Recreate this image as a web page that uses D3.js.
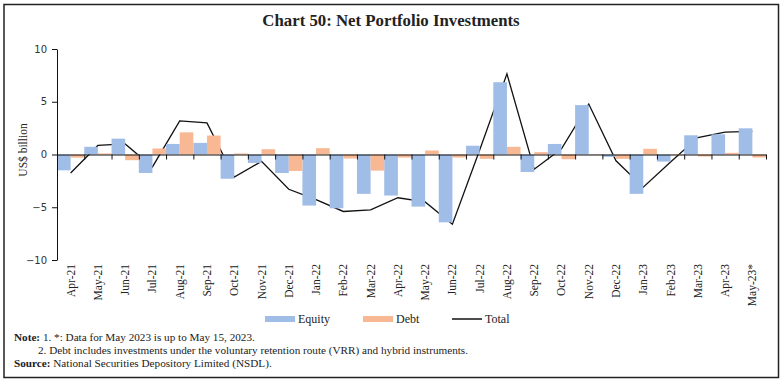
<!DOCTYPE html>
<html>
<head>
<meta charset="utf-8">
<script src="https://cdn.jsdelivr.net/npm/d3@7/dist/d3.min.js"></script>
<style>
body { margin:0; background:#fff; }
svg text { fill:#222; }
</style>
</head>
<body>
<svg id="chart"></svg>
<script>
var months = ["Apr-21","May-21","Jun-21","Jul-21","Aug-21","Sep-21","Oct-21","Nov-21","Dec-21",
    "Jan-22","Feb-22","Mar-22","Apr-22","May-22","Jun-22","Jul-22","Aug-22","Sep-22","Oct-22",
    "Nov-22","Dec-22","Jan-23","Feb-23","Mar-23","Apr-23","May-23*"]

var equity = [-1.5,0.73,1.5,-1.75,1.0,1.1,-2.3,-0.8,-1.75,
    -4.84,-5.1,-3.73,-3.89,-4.94,-6.43,0.83,6.85,-1.66,1.0,
    4.68,-0.22,-3.73,-0.67,1.82,1.91,2.48]

var debt = [-0.3,0.1,-0.54,0.57,2.1,1.8,0.1,0.5,-1.56,
    0.6,-0.38,-1.53,-0.29,0.38,-0.29,-0.41,0.73,0.22,-0.45,
    -0.05,-0.41,0.54,-0.05,-0.19,0.16,-0.29]

var total = [-1.75,0.86,1.0,-1.18,3.18,3.0,-2.13,-0.65,-3.3,
    -4.27,-5.4,-5.25,-4.1,-4.5,-6.6,0.42,7.64,-1.4,0.54,
    4.78,-0.6,-3.1,-0.72,1.6,2.13,2.2]

var yTicks = [-10,-5,0,5,10]

var blue = "#9fbde6"
var orange = "#f8b894"

var screen = {width:783, height:383}
var plot = {left:57, right:766, top:49, bottom:260}

var svg = d3.select("#chart")
    .attr("width",screen.width)
    .attr("height",screen.height)

//outer frame
svg.append("rect")
    .attr("x",4)
    .attr("y",4.5)
    .attr("width",774.5)
    .attr("height",373)
    .attr("fill","none")
    .attr("stroke","#222")
    .attr("stroke-width",1.5)

svg.append("text")
    .attr("x",391)
    .attr("y",26)
    .attr("text-anchor","middle")
    .style("font-family","Liberation Serif")
    .style("font-weight","bold")
    .style("font-size","16.8px")
    .text("Chart 50: Net Portfolio Investments")

var xScale = d3.scaleBand()
    .domain(months)
    .range([plot.left,plot.right])
    .padding(0)

var yScale = d3.scaleLinear()
    .domain([-10,10])
    .range([plot.bottom,plot.top])

var bw = xScale.bandwidth()

//total line goes under the bars
var line = d3.line()
    .x(function(d,i){ return xScale(months[i]) + bw/2; })
    .y(function(d){ return yScale(d); })

svg.append("path")
    .datum(total)
    .attr("d",line)
    .attr("fill","none")
    .attr("stroke","#111")
    .attr("stroke-width",1.3)

svg.append("g").selectAll("rect")
    .data(equity)
    .enter()
    .append("rect")
    .attr("x",function(d,i){ return xScale(months[i]); })
    .attr("y",function(d){ return yScale(Math.max(0,d)); })
    .attr("width",bw/2)
    .attr("height",function(d){ return Math.abs(yScale(d)-yScale(0)); })
    .attr("fill",blue)

svg.append("g").selectAll("rect")
    .data(debt)
    .enter()
    .append("rect")
    .attr("x",function(d,i){ return xScale(months[i]) + bw/2; })
    .attr("y",function(d){ return yScale(Math.max(0,d)); })
    .attr("width",bw/2)
    .attr("height",function(d){ return Math.abs(yScale(d)-yScale(0)); })
    .attr("fill",orange)

//y axis
var yAxis = d3.axisLeft(yScale)
    .tickValues(yTicks)
    .tickSize(5)
    .tickSizeOuter(0)
    .tickPadding(5)

var yg = svg.append("g")
    .attr("transform","translate("+plot.left+",0)")
    .call(yAxis)
yg.selectAll("path,line").attr("stroke","#111")
yg.selectAll("text")
    .style("font-family","DejaVu Sans")
    .style("font-size","10px")
    .style("fill","#333")

//zero line with ticks on the band edges
var edgeScale = d3.scaleLinear()
    .domain([0,months.length])
    .range([plot.left,plot.right])

var zg = svg.append("g")
    .attr("transform","translate(0,"+yScale(0)+")")
    .call(d3.axisBottom(edgeScale)
        .ticks(months.length)
        .tickFormat("")
        .tickSize(5)
        .tickSizeOuter(0))
zg.selectAll("path,line").attr("stroke","#111")

//month labels
svg.append("g").selectAll("text")
    .data(months)
    .enter()
    .append("text")
    .attr("transform",function(d){
        return "translate("+(xScale(d)+bw/2+4)+",264) rotate(-90)";
    })
    .attr("text-anchor","end")
    .style("font-family","Liberation Serif")
    .style("font-size","11.5px")
    .text(function(d){ return d; })

svg.append("text")
    .attr("transform","translate(27,150) rotate(-90)")
    .attr("text-anchor","middle")
    .style("font-family","Liberation Serif")
    .style("font-size","11.5px")
    .text("US$ billion")

//legend
var legend = [
    {name:"Equity", x:265, type:"rect", color:blue},
    {name:"Debt", x:363, type:"rect", color:orange},
    {name:"Total", x:452, type:"line", color:"#111"}
]
var lg = svg.append("g")
legend.forEach(function(item){
    if(item.type=="rect")
    {
        lg.append("rect")
            .attr("x",item.x).attr("y",316)
            .attr("width",30).attr("height",6)
            .attr("fill",item.color)
    }
    else
    {
        lg.append("line")
            .attr("x1",item.x).attr("x2",item.x+30)
            .attr("y1",319).attr("y2",319)
            .attr("stroke",item.color).attr("stroke-width",1.5)
    }
    lg.append("text")
        .attr("x",item.x+33).attr("y",323)
        .style("font-family","Liberation Serif")
        .style("font-size","12px")
        .text(item.name)
})

//notes
var notes = svg.append("g")
    .style("font-family","Liberation Serif")
    .style("font-size","11.2px")

var n1 = notes.append("text").attr("x",14).attr("y",341)
n1.append("tspan").style("font-weight","bold").text("Note: ")
n1.append("tspan").text("1. *: Data for May 2023 is up to May 15, 2023.")

notes.append("text").attr("x",38).attr("y",354)
    .text("2. Debt includes investments under the voluntary retention route (VRR) and hybrid instruments.")

var n3 = notes.append("text").attr("x",14).attr("y",367)
n3.append("tspan").style("font-weight","bold").text("Source: ")
n3.append("tspan").text("National Securities Depository Limited (NSDL).")
</script>
</body>
</html>
